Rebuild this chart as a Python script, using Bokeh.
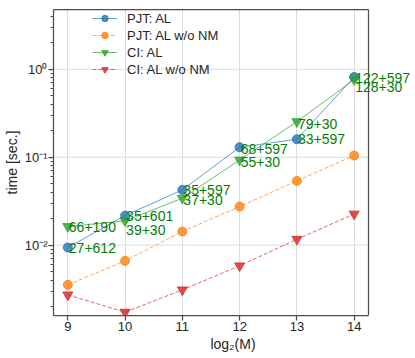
from bokeh.plotting import figure
from bokeh.models import (Range1d, FixedTicker, LogTicker, CustomJSTickFormatter,
                          Legend, LegendItem, Label, LinearAxis, Span)
from bokeh.embed import file_html
from bokeh.resources import INLINE

# ---- data ----
log2_m = [9, 10, 11, 12, 13, 14]
pjt_al = [0.0094, 0.0217, 0.0425, 0.130, 0.160, 0.818]
pjt_al_wo_nm = [0.00354, 0.00663, 0.0143, 0.0275, 0.0538, 0.1045]
ci_al = [0.0163, 0.0189, 0.0342, 0.093, 0.254, 0.764]
ci_al_wo_nm = [0.00272, 0.00173, 0.0031, 0.00582, 0.01167, 0.0226]
pjt_labels = ["27+612", "35+601", "35+597", "68+597", "33+597", "122+597"]
ci_labels = ["66+190", "39+30", "37+30", "55+30", "79+30", "128+30"]
series_names = ["PJT: AL", "PJT: AL w/o NM", "CI: AL", "CI: AL w/o NM"]
x_ticks = [9, 10, 11, 12, 13, 14]
y_major_ticks = [0.01, 0.1, 1.0]

# axis limits
X_LO, X_HI = 8.75, 14.25
Y_LO, Y_HI = 10 ** -2.8, 10 ** 0.68

# label placement offsets (screen px, positive = down)
pjt_label_dy = [0, 0, 0, 2, 0, 1]
ci_label_dy = [1, 9, 2, 2, 2, 7]

FONT = "Liberation Sans"
TXT = "#262626"
SPINE = "#4d4d4d"
GRID = "#dcdcdc"

AX_W = 315                      # width of the axes box in px
EXTRA_W = 44                    # room on the right for the labels at M=2^14
x_view_hi = X_HI + (X_HI - X_LO) * EXTRA_W / AX_W

p = figure(frame_width=AX_W + EXTRA_W, frame_height=306,
           x_range=Range1d(X_LO, x_view_hi),
           y_range=Range1d(Y_LO, Y_HI),
           y_axis_type="log",
           output_backend="svg", toolbar_location=None,
           min_border_left=0, min_border_right=0,
           min_border_top=9, min_border_bottom=0,
           background_fill_color="white", border_fill_color="white")

p.outline_line_color = None

# grids: vertical via xgrid, horizontal drawn only across the axes box
p.xgrid.grid_line_color = GRID
p.xgrid.grid_line_width = 1
p.ygrid.grid_line_color = None
p.segment(x0=[X_LO] * len(y_major_ticks), x1=[X_HI] * len(y_major_ticks),
          y0=y_major_ticks, y1=y_major_ticks, line_color=GRID, line_width=1,
          level="underlay")

# axes
p.xaxis.ticker = FixedTicker(ticks=x_ticks)
p.xaxis.bounds = (X_LO, X_HI)
p.yaxis.ticker = LogTicker(mantissas=[1], num_minor_ticks=10)
p.yaxis.formatter = CustomJSTickFormatter(code="""
const e = Math.round(Math.log10(tick));
const m = {"-": "\u207b", "0": "\u2070", "1": "\u00b9", "2": "\u00b2", "3": "\u00b3",
           "4": "\u2074", "5": "\u2075", "6": "\u2076", "7": "\u2077", "8": "\u2078", "9": "\u2079"};
return "10" + String(e).split("").map(c => m[c]).join("");
""")
for ax in (p.xaxis[0], p.yaxis[0]):
    ax.axis_line_color = SPINE
    ax.axis_line_width = 1.25
    ax.major_tick_line_color = SPINE
    ax.minor_tick_line_color = SPINE
    ax.major_tick_line_width = 1.25
    ax.major_tick_out = 5
    ax.major_tick_in = 0
    ax.minor_tick_out = 3
    ax.minor_tick_in = 0
    ax.major_label_text_font = FONT
    ax.major_label_text_font_size = "13px"
    ax.major_label_text_color = TXT
    ax.major_label_standoff = 1
    ax.axis_label_text_font = FONT
    ax.axis_label_text_font_size = "14px"
    ax.axis_label_text_font_style = "normal"
    ax.axis_label_text_color = TXT
    ax.axis_label_standoff = 2
p.xaxis.minor_tick_line_color = None
p.xaxis.axis_label = "log\u2082(M)"
p.yaxis.axis_label = "time [sec.]"

# top spine (only over the axes box) and right spine
top = LinearAxis(ticker=FixedTicker(ticks=[]), bounds=(X_LO, X_HI),
                 axis_line_color=SPINE, axis_line_width=1.25,
                 major_tick_line_color=None, minor_tick_line_color=None,
                 major_label_text_font_size="0px", major_label_standoff=0,
                 major_tick_out=0, minor_tick_out=0)
p.add_layout(top, "above")
p.add_layout(Span(location=X_HI, dimension="height", line_color=SPINE,
                  line_width=1.25))

blue, orange, green, red = "#1f77b4", "#ff7f0e", "#2ca02c", "#d62728"

items = []
l1 = p.line(log2_m, pjt_al, line_color=blue, line_width=1, line_alpha=0.7)
m1 = p.scatter(log2_m, pjt_al, marker="circle", size=9, fill_color=blue,
               line_color=blue, fill_alpha=0.8, line_alpha=0.8)
items.append(LegendItem(label=series_names[0], renderers=[l1, m1]))

l2 = p.line(log2_m, pjt_al_wo_nm, line_color=orange, line_width=1, line_alpha=0.7,
            line_dash="4 2")
m2 = p.scatter(log2_m, pjt_al_wo_nm, marker="circle", size=9, fill_color=orange,
               line_color=orange, fill_alpha=0.8, line_alpha=0.8)
items.append(LegendItem(label=series_names[1], renderers=[l2, m2]))

l3 = p.line(log2_m, ci_al, line_color=green, line_width=1, line_alpha=0.7)
m3 = p.scatter(log2_m, ci_al, marker="inverted_triangle", size=10, fill_color=green,
               line_color=green, fill_alpha=0.8, line_alpha=0.8)
items.append(LegendItem(label=series_names[2], renderers=[l3, m3]))

l4 = p.line(log2_m, ci_al_wo_nm, line_color=red, line_width=1, line_alpha=0.7,
            line_dash="4 2")
m4 = p.scatter(log2_m, ci_al_wo_nm, marker="inverted_triangle", size=10, fill_color=red,
               line_color=red, fill_alpha=0.8, line_alpha=0.8)
items.append(LegendItem(label=series_names[3], renderers=[l4, m4]))

# annotations
for ys, texts, dys in ((pjt_al, pjt_labels, pjt_label_dy),
                       (ci_al, ci_labels, ci_label_dy)):
    for xv, yv, t, dy in zip(log2_m, ys, texts, dys):
        p.add_layout(Label(x=xv, y=yv, text=t, x_offset=1, y_offset=-dy,
                           text_font=FONT, text_font_size="14px",
                           text_color="green", text_align="left",
                           text_baseline="alphabetic"))

legend = Legend(items=items, location=(39, 238), margin=0, padding=0,
                spacing=1, glyph_width=25, glyph_height=16, label_height=16,
                label_standoff=10, label_text_font=FONT,
                label_text_font_size="13px", label_text_color=TXT,
                background_fill_alpha=0, border_line_alpha=0)
p.add_layout(legend, "center")

open("out.html", "w").write(file_html(p, INLINE))
